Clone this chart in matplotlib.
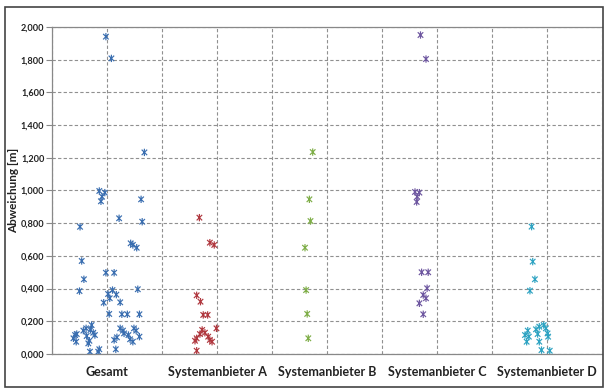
import matplotlib
matplotlib.use("Agg")
import matplotlib.pyplot as plt
from matplotlib.path import Path
from matplotlib.patches import Rectangle
from matplotlib.ticker import FuncFormatter, MultipleLocator

plt.rcParams["font.family"] = ["Lato", "DejaVu Sans"]

categories = ["Gesamt", "Systemanbieter A", "Systemanbieter B", "Systemanbieter C", "Systemanbieter D"]
cat_pos = [1, 3, 5, 7, 9]

# x positions (jittered) and deviations [m] per group
gesamt_x = [0.98, 1.08, 1.68, 0.86, 0.96, 0.91, 0.89, 1.62, 1.22, 1.64, 0.51, 1.43, 1.47, 1.54,
            0.54, 0.58, 0.98, 1.13, 0.50, 1.56, 1.10, 1.02, 1.17, 1.05, 0.94, 1.24, 1.04, 1.27,
            1.37, 1.59,
            0.42, 0.39, 0.45, 0.44, 0.57, 0.62, 0.72, 0.70, 0.75, 0.78, 0.63, 0.68, 0.66, 0.69,
            0.84, 0.86,
            1.24, 1.29, 1.31, 1.18, 1.13, 1.39, 1.42, 1.47, 1.49, 1.53, 1.59, 1.16]
gesamt_y = [1.941, 1.808, 1.233, 0.997, 0.987, 0.962, 0.934, 0.946, 0.830, 0.809, 0.778, 0.677,
            0.667, 0.650, 0.569, 0.457, 0.497, 0.497, 0.385, 0.396, 0.391, 0.367, 0.363, 0.341,
            0.314, 0.316, 0.245, 0.243, 0.243, 0.243,
            0.116, 0.096, 0.122, 0.075, 0.143, 0.157, 0.177, 0.147, 0.130, 0.116, 0.110, 0.081,
            0.065, 0.014, 0.014, 0.029,
            0.157, 0.143, 0.126, 0.102, 0.086, 0.116, 0.090, 0.075, 0.157, 0.143, 0.106, 0.029]

a_x = [2.68, 2.87, 2.95, 2.63, 2.70, 2.75, 2.83, 2.99, 2.73, 2.78, 2.69, 2.63, 2.60, 2.84,
       2.87, 2.91, 2.63]
a_y = [0.834, 0.681, 0.667, 0.359, 0.320, 0.239, 0.239, 0.157, 0.147, 0.130, 0.122, 0.096,
       0.081, 0.106, 0.086, 0.075, 0.020]

b_x = [4.74, 4.68, 4.70, 4.60, 4.62, 4.64, 4.66]
b_y = [1.235, 0.946, 0.813, 0.650, 0.391, 0.245, 0.096]

c_x = [6.70, 6.80, 6.60, 6.68, 6.64, 6.63, 6.72, 6.84, 6.82, 6.75, 6.80, 6.68, 6.75]
c_y = [1.951, 1.804, 0.991, 0.987, 0.962, 0.930, 0.500, 0.500, 0.402, 0.361, 0.341, 0.310, 0.243]

d_x = [8.72, 8.74, 8.78, 8.69, 8.65, 8.60, 8.67, 8.63, 8.80, 8.86, 8.94, 8.98, 9.01, 8.83,
       8.86, 8.90, 9.05, 9.02]
d_y = [0.779, 0.565, 0.457, 0.387, 0.143, 0.116, 0.106, 0.075, 0.151, 0.167, 0.177, 0.157,
       0.126, 0.122, 0.075, 0.024, 0.020, 0.106]

colors = ["#3A6EB0", "#B0383F", "#7FAE48", "#6E57A0", "#2EA3C2"]

# Excel-like star marker: vertical bar plus two diagonals
star = Path([(0, -1), (0, 1), (-0.75, -0.75), (0.75, 0.75), (-0.75, 0.75), (0.75, -0.75)],
            [Path.MOVETO, Path.LINETO] * 3)

fig = plt.figure(figsize=(6.05, 3.9), dpi=100)
ax = fig.add_axes([52 / 605, 36 / 390, 550 / 605, 327 / 390])

for xs, ys, c in zip([gesamt_x, a_x, b_x, c_x, d_x], [gesamt_y, a_y, b_y, c_y, d_y], colors):
    ax.scatter(xs, ys, marker=star, s=28, facecolors="none", edgecolors=c, linewidths=0.85, zorder=3)

ax.set_xlim(0, 10)
ax.set_ylim(0, 2.0)
ax.yaxis.set_major_locator(MultipleLocator(0.2))
ax.yaxis.set_major_formatter(FuncFormatter(lambda v, p: f"{v:.3f}".replace(".", ",")))
ax.xaxis.set_major_locator(MultipleLocator(1))
ax.set_xticklabels([])
ax.tick_params(axis="x", length=0)
ax.tick_params(axis="y", length=4, width=0.8, color="#888888", labelsize=6.6, pad=1.5, labelcolor="#222222")
for lab in ax.get_yticklabels():
    lab.set_fontweight("bold")

ax.grid(True, color="#909090", linestyle=(0, (3, 2)), linewidth=0.8)
ax.set_axisbelow(True)
for s in ["left", "bottom", "top"]:
    ax.spines[s].set_color("#888888")
    ax.spines[s].set_linewidth(0.9)
ax.spines["right"].set_visible(False)

for pos, name in zip(cat_pos, categories):
    ax.text(pos, -0.11, name, ha="center", va="center", fontsize=9, fontweight="bold",
            color="#222222", transform=ax.transData)

ax.set_ylabel("Abweichung [m]", fontsize=8.5, fontweight="bold", color="#222222")
ax.yaxis.set_label_coords(-33 / 550, 0.5)

fig.patches.append(Rectangle((5 / 605, 3 / 390), 598 / 605, 380 / 390, transform=fig.transFigure,
                             fill=False, edgecolor="#444444", linewidth=1.2))

fig.savefig("out.png", dpi=100)
